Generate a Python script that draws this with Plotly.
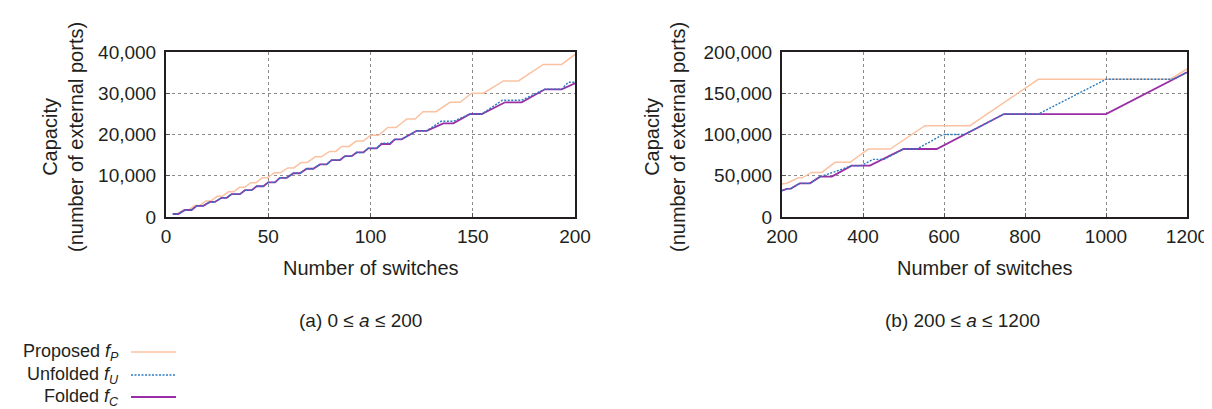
import plotly.graph_objects as go

# ---------------- data ----------------
# Panel (a): 0 <= a <= 200
a_prop_x = [3.3, 5.5, 8.5, 11, 14, 16.5, 19.5, 22, 25, 27.5, 30.5, 33, 36, 38.5, 41.5, 44, 47, 49.5,
            53, 56, 59.5, 62.5, 66, 69, 73, 76, 80, 83, 86, 89.5, 93, 96.5, 100, 104, 108.5, 112.5,
            117.7, 121.8, 125.7, 132, 138.9, 143.8, 149.5, 155.2, 165, 172.3, 184.5, 193.5, 200]
a_prop_y = [730, 730, 1700, 1700, 2800, 2800, 3900, 3900, 5000, 5000, 6100, 6100, 7200, 7200, 8300, 8300,
            9500, 9500, 10700, 10700, 11900, 11900, 13200, 13200, 14600, 14600, 15900, 15900, 17100, 17100,
            18400, 18400, 19800, 19800, 21700, 21700, 23760, 23760, 25530, 25530, 27800, 27800, 30000, 30000,
            33000, 33000, 37000, 37000, 39400]

a_fold_x = [3.3, 6.0, 9.3, 12.5, 15.0, 18.2, 21.5, 23.9, 27.2, 29.7, 32.1, 36.2, 38.6, 41.9, 44.3, 47.6,
            50.0, 53.3, 55.7, 59.0, 62.3, 65.5, 68.8, 72.0, 75.3, 78.6, 81.0, 85.1, 87.5, 90.8, 93.2, 96.5,
            98.9, 103.0, 105.4, 109.5, 111.9, 115.2, 122.6, 127.5, 135.6, 140.5, 148.7, 154.4, 165.8, 173.9,
            185.3, 193.5, 200]
a_fold_y = [727, 727, 1700, 1700, 2700, 2700, 3650, 3650, 4650, 4650, 5550, 5550, 6500, 6500, 7450, 7450,
            8400, 8400, 9500, 9500, 10600, 10600, 11700, 11700, 12750, 12750, 13800, 13800, 14750, 14750,
            15650, 15650, 16650, 16650, 17700, 17700, 18830, 18830, 20900, 20900, 22700, 22700, 24970, 24970,
            27800, 27800, 30950, 30950, 32400]

a_unf_x = [3.3, 6.0, 9.3, 12.5, 15.0, 18.2, 21.5, 23.9, 27.2, 29.7, 32.1, 36.2, 38.6, 41.9, 44.3, 47.6,
           50.0, 53.3, 55.7, 59.0, 62.3, 65.5, 68.8, 72.0, 75.3, 78.6, 81.0, 85.1, 87.5, 90.8, 93.2, 96.5,
           98.9, 103.0, 105.4, 109.5, 111.9, 115.2, 122.6, 127.5, 134.5, 140.5, 148.7, 154.4, 164.5, 173.9,
           185.3, 193.5, 196.7, 200]
a_unf_y = [727, 727, 1700, 1700, 2700, 2700, 3650, 3650, 4650, 4650, 5550, 5550, 6500, 6500, 7450, 7450,
           8400, 8400, 9500, 9500, 10600, 10600, 11700, 11700, 12750, 12750, 13800, 13800, 14750, 14750,
           15650, 15650, 16650, 16650, 17900, 17900, 18830, 18830, 20900, 20900, 23200, 23200, 24970, 24970,
           28300, 28300, 31000, 31000, 32650, 32650]

# Panel (b): 200 <= a <= 1200
b_prop_x = [200, 212, 240, 250, 273, 298, 331, 368, 413, 467, 553, 664, 833, 1158, 1200]
b_prop_y = [40000, 41000, 47500, 47500, 54000, 54000, 66300, 66300, 82400, 82400, 110700, 110700,
            166900, 166900, 179400]

b_unf_x = [200, 212, 222, 244, 269, 294, 331, 372, 395, 425, 452, 500, 533, 598, 650, 748, 833,
           1000, 1166, 1200]
b_unf_y = [32000, 34000, 34500, 40800, 40800, 48900, 55000, 62200, 62200, 69900, 69900, 82400, 82400,
           100000, 100000, 124800, 124800, 166900, 166900, 175400]

b_fold_x = [200, 212, 222, 244, 269, 294, 323, 372, 417, 500, 582, 748, 1000, 1200]
b_fold_y = [32000, 34000, 34500, 40800, 40800, 48900, 48900, 62200, 62200, 82400, 82400, 124800,
            124800, 175400]

a_xticks = [0, 50, 100, 150, 200]
a_yticks = [0, 10000, 20000, 30000, 40000]
b_xticks = [200, 400, 600, 800, 1000, 1200]
b_yticks = [0, 50000, 100000, 150000, 200000]

series_names = ["Proposed <i>f</i><sub><i>P</i></sub>",
                "Unfolded <i>f</i><sub><i>U</i></sub>",
                "Folded <i>f</i><sub><i>C</i></sub>"]
captions = ["(a) 0 ≤ <i>a</i> ≤ 200", "(b) 200 ≤ <i>a</i> ≤ 1200"]
x_title = "Number of switches"
y_title = "Capacity<br>(number of external ports)"

# ---------------- styling ----------------
OFF = 8                      # page body margin offset
W, H = 1212 - OFF, 409 - OFF
FONT = "Liberation Sans, Arial, Helvetica, sans-serif"
TXT = "#231f20"
C_PROP = "#FBC2A2"
C_UNF = "#2C7CC0"
C_FOLD = "#9A2EA6"
UNF_DASH = "2px,1.5px"

def px_x(p):
    return (p - OFF) / W

def px_y(p):
    return 1 - (p - OFF) / H

fig = go.Figure()

def add_panel(xa, ya, prop, unf, fold):
    fig.add_trace(go.Scatter(x=prop[0], y=prop[1], mode="lines", xaxis=xa, yaxis=ya,
                             line=dict(color=C_PROP, width=1.5), showlegend=False))
    fig.add_trace(go.Scatter(x=fold[0], y=fold[1], mode="lines", xaxis=xa, yaxis=ya,
                             line=dict(color=C_FOLD, width=1.8), showlegend=False))
    fig.add_trace(go.Scatter(x=unf[0], y=unf[1], mode="lines", xaxis=xa, yaxis=ya,
                             line=dict(color=C_UNF, width=1.4, dash=UNF_DASH), showlegend=False))

add_panel("x", "y", (a_prop_x, a_prop_y), (a_unf_x, a_unf_y), (a_fold_x, a_fold_y))
add_panel("x2", "y2", (b_prop_x, b_prop_y), (b_unf_x, b_unf_y), (b_fold_x, b_fold_y))

ydom = [px_y(217), px_y(52)]
axis_common = dict(showline=True, mirror=True, linecolor="#231f20", linewidth=2,
                   showgrid=True, gridcolor="#8a8a8a", gridwidth=1, griddash="dot",
                   zeroline=False, ticks="inside", ticklen=4, tickcolor="#555",
                   automargin=False,
                   tickfont=dict(family=FONT, size=19, color=TXT))

fig.update_layout(
    width=W, height=H,
    margin=dict(l=0, r=0, t=0, b=0, autoexpand=False),
    paper_bgcolor="white", plot_bgcolor="white",
    font=dict(family=FONT, color=TXT),
    xaxis=dict(domain=[px_x(166), px_x(575)], range=[0, 200], tickvals=a_xticks,
               anchor="y", ticklabelstandoff=1, **axis_common),
    yaxis=dict(domain=ydom, range=[0, 40000], tickvals=a_yticks, tickformat=",",
               anchor="x", ticklabelstandoff=4, **axis_common),
    xaxis2=dict(domain=[px_x(782), px_x(1187)], range=[200, 1200], tickvals=b_xticks,
                anchor="y2", ticklabelstandoff=1, **axis_common),
    yaxis2=dict(domain=ydom, range=[0, 200000], tickvals=b_yticks, tickformat=",",
                anchor="x2", ticklabelstandoff=4, **axis_common),
    showlegend=False,
)

anns = []
# axis titles
for cx in (371, 985):
    anns.append(dict(x=px_x(cx), y=px_y(268), xref="paper", yref="paper", text=x_title,
                     showarrow=False, xanchor="center", yanchor="middle",
                     font=dict(family=FONT, size=20, color=TXT)))
for cx in (63, 665):
    anns.append(dict(x=px_x(cx), y=px_y(137), xref="paper", yref="paper", text=y_title,
                     showarrow=False, textangle=-90, xanchor="center", yanchor="middle",
                     font=dict(family=FONT, size=20, color=TXT)))
# captions
for cx, cap in zip((360, 962), captions):
    anns.append(dict(x=px_x(cx), y=px_y(320), xref="paper", yref="paper", text=cap,
                     showarrow=False, xanchor="center", yanchor="middle",
                     font=dict(family=FONT, size=19, color=TXT)))
# manual legend (text right-aligned, sample line to the right)
leg_y = [352, 375, 397]
leg_style = [dict(color=C_PROP, width=1.5), dict(color=C_UNF, width=1.4, dash=UNF_DASH),
             dict(color=C_FOLD, width=1.8)]
shapes = []
for name, yy, st in zip(series_names, leg_y, leg_style):
    anns.append(dict(x=px_x(121), y=px_y(yy), xref="paper", yref="paper", text=name,
                     showarrow=False, xanchor="right", yanchor="middle",
                     font=dict(family=FONT, size=18, color=TXT)))
    shapes.append(dict(type="line", xref="paper", yref="paper",
                       x0=px_x(131), x1=px_x(176), y0=px_y(yy), y1=px_y(yy), line=st))

fig.update_layout(annotations=anns, shapes=shapes)

fig.write_html("out.html")
